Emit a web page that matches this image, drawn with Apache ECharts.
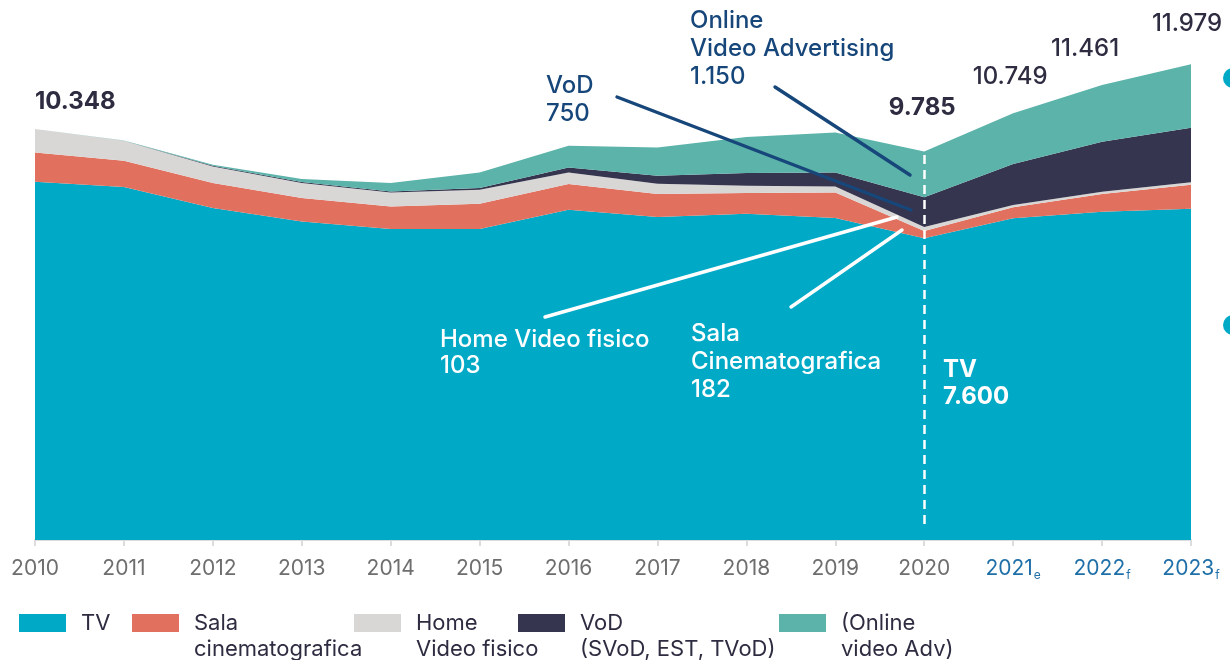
<!DOCTYPE html>
<html>
<head>
<meta charset="utf-8">
<script src="https://cdn.jsdelivr.net/npm/echarts@6/dist/echarts.min.js"></script>
<style>
  html, body { margin: 0; padding: 0; background: #fff; }
  #main { width: 1230px; height: 660px; }
</style>
</head>
<body>
<div id="main"></div>
<script>
// anni e suffissi (e = stima, f = previsione)
const years = ['2010', '2011', '2012', '2013', '2014', '2015', '2016', '2017', '2018', '2019', '2020', '2021', '2022', '2023'];
const yearSuffix = ['', '', '', '', '', '', '', '', '', '', '', 'e', 'f', 'f'];

// valori in milioni di euro
const tv = [9020, 8888, 8359, 8021, 7830, 7830, 8316, 8132, 8215, 8107, 7600, 8105, 8268, 8342];
const sala = [741, 663, 630, 590, 570, 638, 648, 580, 522, 645, 182, 277, 446, 605];
const homeVideo = [587, 504, 418, 378, 353, 353, 292, 260, 184, 151, 103, 58, 58, 66];
const vod = [0, 0, 18, 25, 25, 43, 126, 202, 320, 353, 750, 1031, 1260, 1371];
const onlineAdv = [0, 5, 25, 76, 212, 393, 547, 713, 907, 1008, 1150, 1278, 1429, 1595];

const seriesNames = ['TV', 'Sala\ncinematografica', 'Home\nVideo fisico', 'VoD\n(SVoD, EST, TVoD)', '(Online\nvideo Adv)'];
const seriesColors = ['#00aac7', '#e2705e', '#d9d7d5', '#35354f', '#5bb3aa'];

const totals = years.map((_, i) => tv[i] + sala[i] + homeVideo[i] + vod[i] + onlineAdv[i]);
const fmt = n => n.toString().replace(/\B(?=(\d{3})+(?!\d))/g, '.');

const FONT = 'Inter';
const darkText = '#2d2c41';
const noteBlue = '#17477a';

// etichette dei totali sopra l'area
const totalLabels = {
    0: { offset: [0, -13], align: 'left', fontWeight: 700 },
    10: { offset: [-2, -30], fontWeight: 700 },
    11: { offset: [-3, -22], fontWeight: 500 },
    12: { offset: [-17, -22], fontWeight: 500 },
    13: { offset: [-4, -27], fontWeight: 500 }
};

const myChart = echarts.init(document.getElementById('main'));

const seriesData = [tv, sala, homeVideo, vod, onlineAdv];
const series = seriesData.map((arr, k) => {
    const s = {
        name: seriesNames[k],
        type: 'line',
        stack: 'tot',
        data: arr,
        showSymbol: false,
        lineStyle: { width: 0 },
        areaStyle: { color: seriesColors[k], opacity: 1 },
        itemStyle: { color: seriesColors[k] },
        silent: true
    };
    if (k === seriesData.length - 1) {
        s.showSymbol = true;
        s.symbol = 'circle';
        s.symbolSize = 0;
        s.data = arr.map((v, i) => {
            const cfg = totalLabels[i];
            if (!cfg) return { value: v, label: { show: false } };
            return {
                value: v,
                label: {
                    show: true,
                    position: 'top',
                    distance: 0,
                    offset: cfg.offset,
                    align: cfg.align || 'center',
                    formatter: fmt(totals[i]),
                    fontFamily: FONT,
                    fontSize: 24,
                    lineHeight: 28,
                    fontWeight: cfg.fontWeight,
                    color: darkText
                }
            };
        });
        s.markLine = {
            silent: true,
            symbol: 'none',
            label: { show: false },
            lineStyle: { color: '#ffffff', type: [9, 6], width: 2.5 },
            data: [[{ coord: ['2020', 400] }, { coord: ['2020', totals[10]] }]]
        };
    }
    return s;
});

// una legenda per voce: il quadrato resta allineato alla prima riga
const legendLeft = [19, 132, 354, 518, 779];
const legends = seriesNames.map((name, k) => ({
    data: [name],
    left: legendLeft[k],
    top: k === 0 ? 610 : 584,
    padding: 0,
    icon: 'rect',
    itemWidth: 47,
    itemHeight: 18,
    selectedMode: false,
    formatter: n => (n.indexOf('\n') >= 0 ? '\n' + n : n),
    textStyle: {
        fontFamily: FONT,
        fontSize: 22,
        lineHeight: 26,
        color: darkText,
        padding: [0, 0, 0, 10]
    }
}));

function noteText(text, x, top, color, size, weight, lh) {
    return {
        type: 'text',
        x: x,
        y: top,
        z: 100,
        silent: true,
        style: {
            text: text,
            fill: color,
            font: weight + ' ' + size + 'px ' + FONT,
            lineHeight: lh,
            verticalAlign: 'top'
        }
    };
}
function noteLine(x1, y1, x2, y2, color) {
    return {
        type: 'line',
        z: 100,
        silent: true,
        shape: { x1: x1, y1: y1, x2: x2, y2: y2 },
        style: { stroke: color, lineWidth: 3.4, lineCap: 'round' }
    };
}

const option = {
    animation: false,
    backgroundColor: '#ffffff',
    grid: { left: 35, right: 39, top: 0, bottom: 120 },
    legend: legends,
    xAxis: {
        type: 'category',
        data: years,
        boundaryGap: false,
        axisLine: { lineStyle: { color: '#dcdcdc', width: 2 } },
        axisTick: { show: true, interval: 0, length: 6, lineStyle: { color: '#dcdcdc', width: 2 } },
        axisLabel: {
            interval: 0,
            margin: 17,
            fontFamily: FONT,
            formatter: (v, i) => yearSuffix[i] ? '{f|' + v + '}{s|' + yearSuffix[i] + '}' : '{p|' + v + '}',
            rich: {
                p: { fontFamily: FONT, fontSize: 21, color: '#6e6e6e', lineHeight: 24 },
                f: { fontFamily: FONT, fontSize: 21, color: '#1f6fa8', lineHeight: 24 },
                s: { fontFamily: FONT, fontSize: 12, color: '#1f6fa8', lineHeight: 24, verticalAlign: 'bottom', padding: [12, 0, 0, 1] }
            }
        }
    },
    yAxis: {
        type: 'value',
        min: 0,
        max: 13600,
        show: false,
        splitLine: { show: false }
    },
    series: series,
    graphic: [
        noteLine(617, 97, 911, 210, noteBlue),
        noteLine(775, 87, 910, 175, noteBlue),
        noteLine(545, 317, 897, 217, '#ffffff'),
        noteLine(791, 307, 902, 230, '#ffffff'),
        noteText('Online\nVideo Advertising\n' + fmt(onlineAdv[10]), 690, 7, noteBlue, 24, 500, 28),
        noteText('VoD\n' + fmt(vod[10]), 546, 72, noteBlue, 24, 500, 28),
        noteText('Home Video fisico\n' + fmt(homeVideo[10]), 440, 327, '#ffffff', 24, 500, 26),
        noteText('Sala\nCinematografica\n' + fmt(sala[10]), 691, 320, '#ffffff', 24, 500, 28),
        noteText('TV\n' + fmt(tv[10]), 943, 356, '#ffffff', 24, 700, 27),
        { type: 'circle', silent: true, shape: { cx: 1233, cy: 78, r: 10 }, style: { fill: '#00aac7' } },
        { type: 'circle', silent: true, shape: { cx: 1233, cy: 325, r: 10 }, style: { fill: '#00aac7' } }
    ]
};

myChart.setOption(option);
</script>
</body>
</html>
